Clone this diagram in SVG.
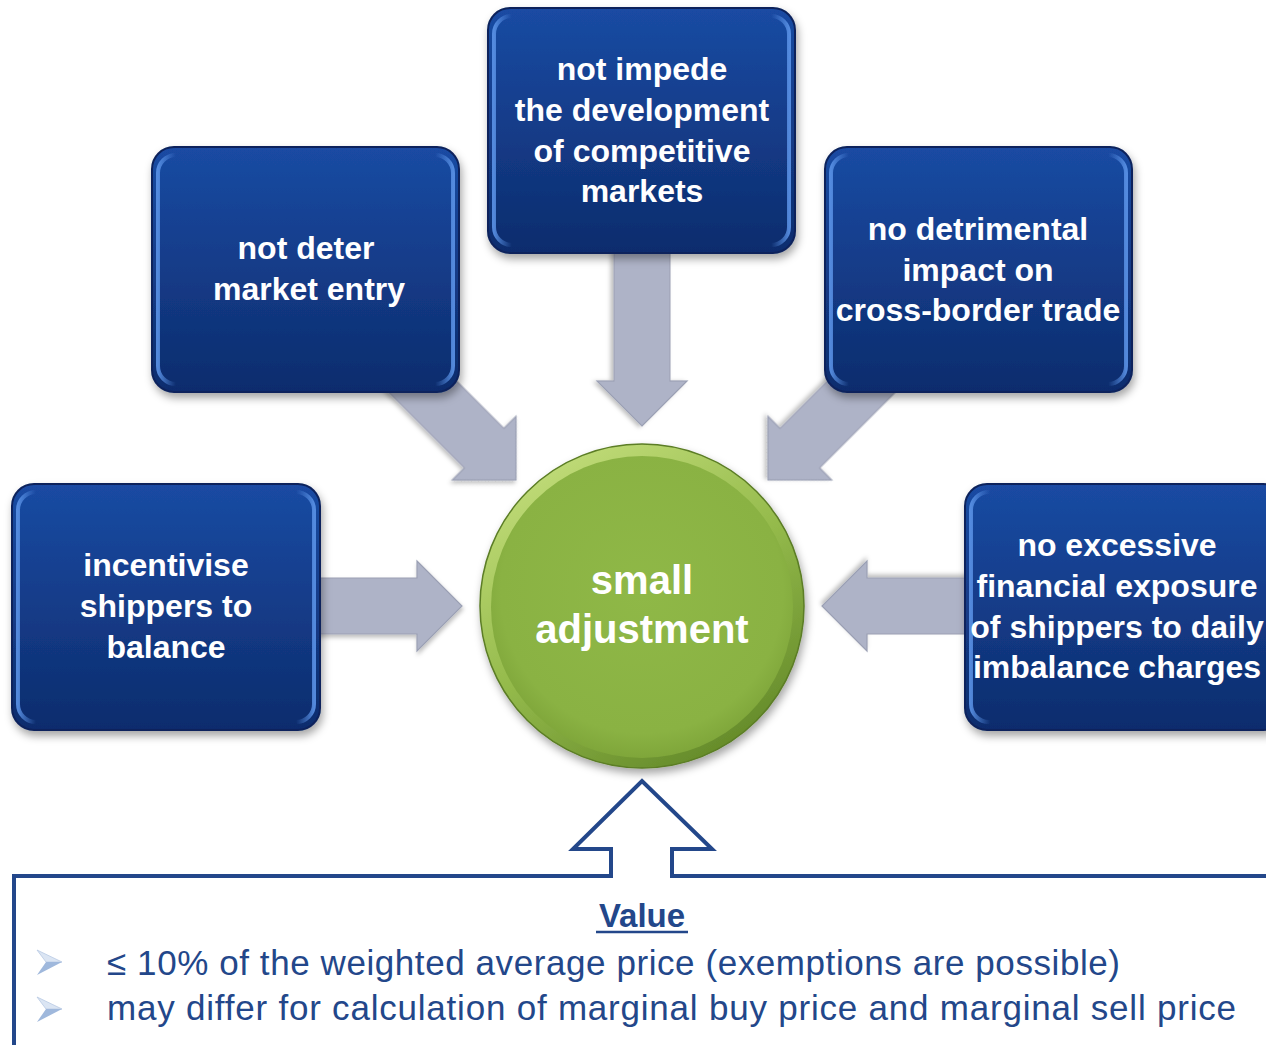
<svg xmlns="http://www.w3.org/2000/svg" width="1266" height="1045" viewBox="0 0 1266 1045">
<style>
.bt{font-family:"Liberation Sans",Arial,sans-serif;font-weight:bold;font-size:32px;fill:#ffffff;text-anchor:middle}
.ct{font-family:"Liberation Sans",Arial,sans-serif;font-weight:bold;font-size:40px;fill:#ffffff;text-anchor:middle}
.vt{font-family:"Liberation Sans",Arial,sans-serif;font-size:35px;fill:#23478a}
.box{fill:url(#gBox);stroke:#0a235c;stroke-width:2}
.hl{fill:none;stroke:url(#gHl);stroke-width:4}
.arr{fill:#aeb3c7;stroke:#9ba0b4;stroke-width:1.2}
</style>
<defs>
<linearGradient id="gBox" x1="0" y1="0" x2="0" y2="1">
<stop offset="0" stop-color="#1a4ba3"/>
<stop offset="1" stop-color="#0d2c6d"/>
</linearGradient>
<linearGradient id="gHl" x1="0" y1="0" x2="1" y2="0">
<stop offset="0" stop-color="#5a92e6" stop-opacity="0.9"/>
<stop offset="0.06" stop-color="#5a92e6" stop-opacity="0"/>
<stop offset="0.94" stop-color="#5a92e6" stop-opacity="0"/>
<stop offset="1" stop-color="#5a92e6" stop-opacity="0.9"/>
</linearGradient>
<linearGradient id="gRim" x1="0.2" y1="0" x2="0.8" y2="1">
<stop offset="0" stop-color="#c4de7c"/>
<stop offset="0.5" stop-color="#94ba4b"/>
<stop offset="1" stop-color="#5f8526"/>
</linearGradient>
<radialGradient id="gIn" cx="0.5" cy="0.45" r="0.55">
<stop offset="0" stop-color="#8fb847"/>
<stop offset="0.85" stop-color="#8ab243"/>
<stop offset="1" stop-color="#7fa63a"/>
</radialGradient>
<filter id="sh" x="-20%" y="-20%" width="140%" height="150%">
<feDropShadow dx="2" dy="5" stdDeviation="4" flood-color="#000" flood-opacity="0.35"/>
</filter>
<filter id="sh2" x="-20%" y="-20%" width="140%" height="140%">
<feDropShadow dx="1" dy="3" stdDeviation="2" flood-color="#000" flood-opacity="0.25"/>
</filter>
<path id="arrow" d="M -200 -28 L -45 -28 L -45 -45 L 0 0 L -45 45 L -45 28 L -200 28 Z"/>
</defs>
<rect width="1266" height="1045" fill="#ffffff"/>

<g id="connectors">
<use href="#arrow" class="arr" filter="url(#sh2)" transform="translate(462,606)"/>
<use href="#arrow" class="arr" filter="url(#sh2)" transform="translate(822,606) rotate(180)"/>
<use href="#arrow" class="arr" filter="url(#sh2)" transform="translate(642,426) rotate(90)"/>
<use href="#arrow" class="arr" filter="url(#sh2)" transform="translate(516,480) rotate(45)"/>
<use href="#arrow" class="arr" filter="url(#sh2)" transform="translate(768,480) rotate(135)"/>
<path d="M 14 1050 L 14 876 L 611 876 L 611 849 L 573 849 L 642 781 L 712 849 L 672 849 L 672 876 L 1270 876" fill="none" stroke="#23478a" stroke-width="4" stroke-linejoin="miter"/>
</g>

<g id="node-top">
<rect class="box" filter="url(#sh)" x="488" y="8" width="307" height="245" rx="22"/>
<rect class="hl" x="494" y="16" width="295" height="229" rx="18"/>
<text class="bt" x="642" y="80">not impede</text>
<text class="bt" x="642" y="121">the development</text>
<text class="bt" x="642" y="162">of competitive</text>
<text class="bt" x="642" y="202">markets</text>
</g>

<g id="node-upper-left">
<rect class="box" filter="url(#sh)" x="152" y="147" width="307" height="245" rx="22"/>
<rect class="hl" x="158" y="155" width="295" height="229" rx="18"/>
<text class="bt" x="306" y="259">not deter</text>
<text class="bt" x="309" y="300">market entry</text>
</g>

<g id="node-upper-right">
<rect class="box" filter="url(#sh)" x="825" y="147" width="307" height="245" rx="22"/>
<rect class="hl" x="831" y="155" width="295" height="229" rx="18"/>
<text class="bt" x="978" y="240">no detrimental</text>
<text class="bt" x="978" y="281">impact on</text>
<text class="bt" x="978" y="321">cross-border trade</text>
</g>

<g id="node-left">
<rect class="box" filter="url(#sh)" x="12" y="484" width="308" height="246" rx="22"/>
<rect class="hl" x="18" y="492" width="296" height="230" rx="18"/>
<text class="bt" x="166" y="576">incentivise</text>
<text class="bt" x="166" y="617">shippers to</text>
<text class="bt" x="166" y="658">balance</text>
</g>

<g id="node-right">
<rect class="box" filter="url(#sh)" x="965" y="484" width="320" height="246" rx="22"/>
<rect class="hl" x="971" y="492" width="320" height="230" rx="18"/>
<text class="bt" x="1117" y="556">no excessive</text>
<text class="bt" x="1117" y="597">financial exposure</text>
<text class="bt" x="1117" y="638">of shippers to daily</text>
<text class="bt" x="1117" y="678">imbalance charges</text>
</g>

<g id="node-center">
<circle cx="642" cy="606" r="162" fill="url(#gRim)" stroke="#5b7d25" stroke-width="1.5" filter="url(#sh)"/>
<circle cx="642" cy="607" r="151" fill="url(#gIn)"/>
<text class="ct" x="642" y="594">small</text>
<text class="ct" x="642" y="643">adjustment</text>
</g>

<g id="value-box">
<text x="642" y="927" font-family="Liberation Sans, Arial, sans-serif" font-weight="bold" font-size="33" fill="#23478a" text-anchor="middle">Value</text>
<line x1="596" y1="932" x2="688" y2="932" stroke="#23478a" stroke-width="2.5"/>
<polygon points="37,950 62,962 46,962" fill="#dbe5f3" stroke="#b7c9e3" stroke-width="0.8"/>
<polygon points="46,962 62,962 37,975" fill="#9fb8dc"/>
<polygon points="37,997 62,1009 46,1009" fill="#dbe5f3" stroke="#b7c9e3" stroke-width="0.8"/>
<polygon points="46,1009 62,1009 37,1022" fill="#9fb8dc"/>
<text class="vt" x="107" y="975" textLength="1013">≤ 10% of the weighted average price (exemptions are possible)</text>
<text class="vt" x="107" y="1020" textLength="1129">may differ for calculation of marginal buy price and marginal sell price</text>
</g>
</svg>
